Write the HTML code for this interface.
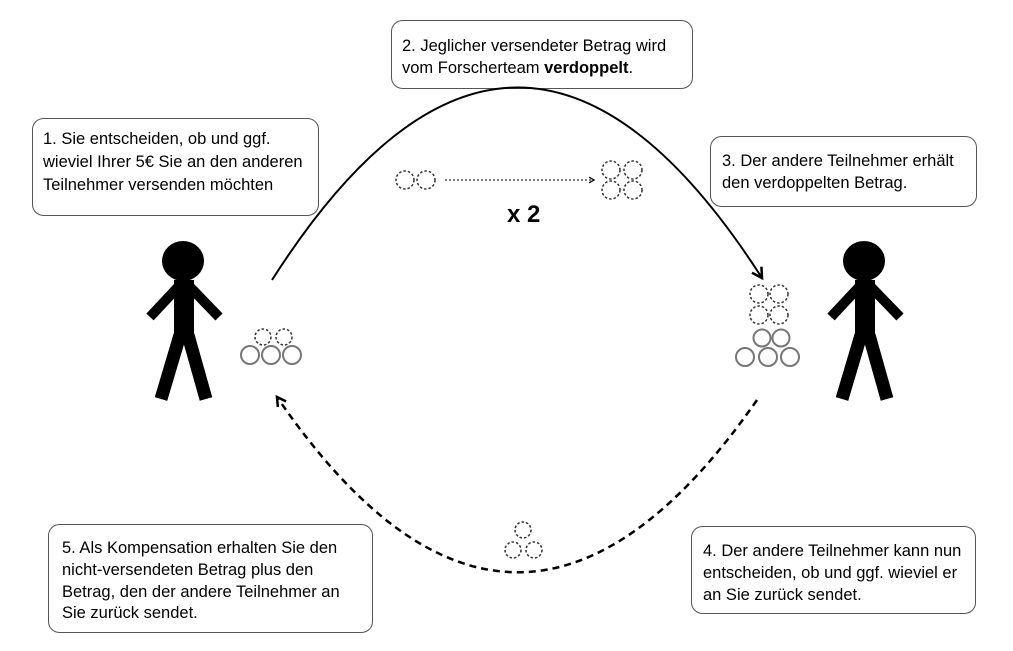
<!DOCTYPE html>
<html><head><meta charset="utf-8"><style>
html,body{margin:0;padding:0;background:#fff;}
svg text{font-family:"Liberation Sans",sans-serif;font-size:16.5px;fill:#000;}
</style></head><body>
<svg width="1013" height="646" viewBox="0 0 1013 646" xmlns="http://www.w3.org/2000/svg">
<defs>
<marker id="ah" viewBox="0 0 10 10" refX="8" refY="5" markerWidth="7" markerHeight="7" orient="auto"><path d="M1,1 L8,5 L1,9" fill="none" stroke="#000" stroke-width="1.8"/></marker>
<marker id="ah3" viewBox="0 0 10 10" refX="8" refY="5" markerWidth="5" markerHeight="5" orient="auto"><path d="M1,1 L8,5 L1,9" fill="none" stroke="#000" stroke-width="2"/></marker>
</defs>
<g fill="#fff" stroke="#555" stroke-width="1">
<rect x="32.5" y="118.5" width="286" height="97" rx="11"/>
<rect x="391.5" y="20.5" width="301" height="68" rx="11"/>
<rect x="710.5" y="136.5" width="266" height="70" rx="11"/>
<rect x="691.5" y="526.5" width="284" height="87" rx="11"/>
<rect x="48.5" y="524.5" width="324" height="108" rx="11"/>
</g>
<text x="43" y="144">1. Sie entscheiden, ob und ggf.</text>
<text x="43" y="167">wieviel Ihrer 5€ Sie an den anderen</text>
<text x="43" y="190">Teilnehmer versenden möchten</text>
<text x="402" y="51">2. Jeglicher versendeter Betrag wird</text>
<text x="402" y="73">vom Forscherteam <tspan font-weight="bold">verdoppelt</tspan>.</text>
<text x="722" y="166">3. Der andere Teilnehmer erhält</text>
<text x="722" y="188">den verdoppelten Betrag.</text>
<text x="703" y="556">4. Der andere Teilnehmer kann nun</text>
<text x="703" y="578">entscheiden, ob und ggf. wieviel er</text>
<text x="703" y="600">an Sie zurück sendet.</text>
<text x="62" y="553">5. Als Kompensation erhalten Sie den</text>
<text x="62" y="575">nicht-versendeten Betrag plus den</text>
<text x="62" y="597">Betrag, den der andere Teilnehmer an</text>
<text x="62" y="618">Sie zurück sendet.</text>
<text x="507" y="222" style="font-size:24px;font-weight:bold">x 2</text>
<path d="M272,280 Q517,-104 762,278" fill="none" stroke="#000" stroke-width="2" marker-end="url(#ah)"/>
<path d="M757,400 Q516,746 277,397" fill="none" stroke="#000" stroke-width="2.5" stroke-dasharray="7,5" marker-end="url(#ah3)"/>
<line x1="445" y1="180" x2="594" y2="180" stroke="#000" stroke-width="1" stroke-dasharray="2,2" marker-end="url(#ah)"/>
<g id="fig">
<ellipse cx="183" cy="261" rx="21" ry="20" fill="#000"/>
<rect x="174" y="280" width="20" height="60" fill="#000"/>
<line x1="178" y1="287" x2="150" y2="317" stroke="#000" stroke-width="10"/>
<line x1="190" y1="287" x2="219" y2="317" stroke="#000" stroke-width="10"/>
<line x1="180" y1="335" x2="161" y2="399" stroke="#000" stroke-width="13"/>
<line x1="188" y1="335" x2="206" y2="399" stroke="#000" stroke-width="13"/>
</g>
<use href="#fig" transform="translate(681,0)"/>
<g fill="none" stroke="#333" stroke-width="1.5" stroke-dasharray="2.5,2">
<circle cx="263" cy="337" r="8"/><circle cx="284" cy="337" r="8"/>
<circle cx="405" cy="180" r="9"/><circle cx="426" cy="180" r="9"/>
<circle cx="611" cy="170" r="9"/><circle cx="633" cy="170" r="9"/>
<circle cx="611" cy="190" r="9"/><circle cx="633" cy="190" r="9"/>
<circle cx="759" cy="294" r="9"/><circle cx="779" cy="294" r="9"/>
<circle cx="759" cy="315" r="9"/><circle cx="779" cy="315" r="9"/>
<circle cx="523" cy="530" r="8"/><circle cx="513" cy="550" r="8"/><circle cx="534" cy="550" r="8"/>
</g>
<g fill="none" stroke="#777" stroke-width="2">
<circle cx="250" cy="355" r="9"/><circle cx="271" cy="355" r="9"/><circle cx="292" cy="355" r="9"/>
<circle cx="762" cy="338" r="8.5"/><circle cx="781" cy="338" r="8.5"/>
<circle cx="745" cy="357" r="9"/><circle cx="768" cy="357" r="9"/><circle cx="790" cy="357" r="9"/>
</g>
</svg>
</body></html>
